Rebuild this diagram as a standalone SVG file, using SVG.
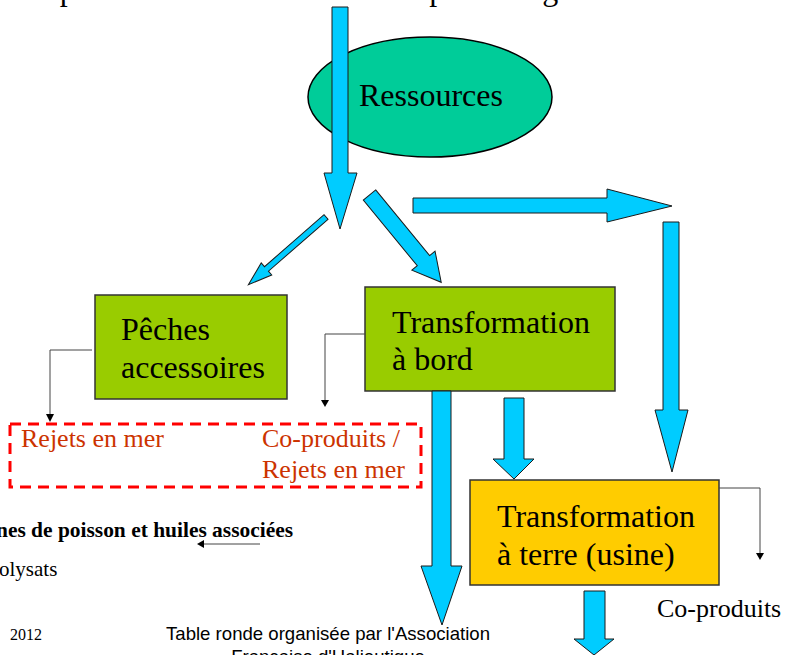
<svg xmlns="http://www.w3.org/2000/svg" width="787" height="655" viewBox="0 0 787 655">
<style>
.arr{fill:#00CCFF;stroke:#1a1a1a;stroke-width:1}
.box{stroke:#333;stroke-width:1.5}
.t{font-family:"Liberation Serif","Times New Roman",serif;font-size:32px;fill:#000}
.red{font-family:"Liberation Serif","Times New Roman",serif;font-size:26px;fill:#CC3300}
.con{fill:none;stroke:#444;stroke-width:1}
.head{fill:#000}
.sm{font-family:"Liberation Serif","Times New Roman",serif;font-size:21px;fill:#000}
.foot{font-family:"Liberation Sans",Arial,sans-serif;font-size:18.6px;fill:#000}
</style>
<rect width="787" height="655" fill="#fff"/>
<text class="t" x="25" y="0">es pêches accessoires et des co-produits générés à bord.</text>

<g id="ressources">
<ellipse cx="430" cy="97" rx="122" ry="60" fill="#00CC99" stroke="#000" stroke-width="1.5"/>
<text class="t" x="359" y="106">Ressources</text>
</g>

<g id="peches">
<rect class="box" x="95" y="295" width="192" height="104" fill="#99CC00"/>
<text class="t" x="121" y="340">Pêches</text>
<text class="t" x="121" y="378">accessoires</text>
</g>

<g id="bord">
<rect class="box" x="365" y="287" width="250" height="104" fill="#99CC00"/>
<text class="t" x="392" y="333">Transformation</text>
<text class="t" x="392" y="370">à bord</text>
</g>

<g id="terre">
<rect class="box" x="470" y="480" width="249" height="105" fill="#FFCC00"/>
<text class="t" x="497" y="527">Transformation</text>
<text class="t" x="497" y="565">à terre (usine)</text>
</g>

<g id="rejets">
<rect x="10" y="424" width="411" height="63" fill="none" stroke="#FF0000" stroke-width="3" stroke-dasharray="11,7"/>
<text class="red" x="21" y="447">Rejets en mer</text>
<text class="red" x="262" y="447">Co-produits /</text>
<text class="red" x="262" y="478">Rejets en mer</text>
</g>

<g id="coproduits">
<text class="t" style="font-size:26px" x="657" y="617">Co-produits</text>
</g>

<g id="farines">
<text class="sm" x="-4" y="537" font-weight="bold" textLength="297" lengthAdjust="spacingAndGlyphs">nes de poisson et huiles associées</text>
</g>
<g id="hydrolysats">
<text class="sm" x="-1" y="576">olysats</text>
</g>

<g id="footer">
<text class="sm" style="font-size:16px" x="10" y="640">2012</text>
<text class="foot" x="328" y="640" text-anchor="middle">Table ronde organisée par l'Association</text>
<text class="foot" x="328" y="663" text-anchor="middle">Française d'Halieutique</text>
</g>

<g id="connectors">
<polygon class="arr" points="332,7 348,7 348,173 357,173 340,229 324,173 332,173"/>
<g transform="translate(326,217) rotate(138.9)"><polygon class="arr" points="0,-3 79,-3 79,-8 103,0 79,8 79,3 0,3"/></g>
<g transform="translate(369.5,195) rotate(50.6)"><polygon class="arr" points="0,-8 85,-8 85,-15 113,0 85,15 85,8 0,8"/></g>
<polygon class="arr" points="413,198 607,198 607,189 672,206 607,222 607,213 413,213"/>
<polygon class="arr" points="663,222 679,222 679,410 688,410 672,472 655,410 663,410"/>
<polygon class="arr" points="432,391 451,391 451,566 462,566 442,625 421,566 432,566"/>
<polygon class="arr" points="504,398 524,398 524,459 534,459 514,479 493,459 504,459"/>
<polygon class="arr" points="584,591 605,591 605,639 614,639 594,655 574,639 584,639"/>

<polyline class="con" points="92,350 50,350 50,415"/>
<polygon class="head" points="46,414 54,414 50,422"/>
<polyline class="con" points="365,334 325,334 325,400"/>
<polygon class="head" points="321,400 329,400 325,407"/>
<polyline class="con" points="719,488 760,488 760,553"/>
<polygon class="head" points="756,553 764,553 760,560"/>
<line class="con" x1="260" y1="544" x2="203" y2="544" stroke="#888"/>
<polygon class="head" points="204,540 204,548 197,544"/>
</g>
</svg>
